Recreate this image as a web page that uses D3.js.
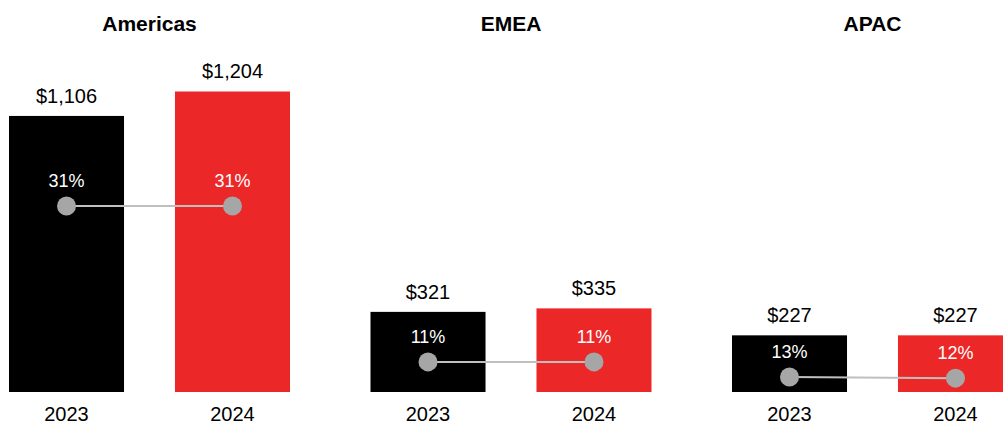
<!DOCTYPE html>
<html lang="en">
<head>
    <meta charset="UTF-8">
    <title>Revenue by region</title>
    <style>
        body {
            margin: 0;
            background: #fff;
        }

        #chart text {
            font-family: Arial, "Liberation Sans", sans-serif;
        }
    </style>
</head>
<body>
<div id="chart"></div>

<script src="https://cdn.jsdelivr.net/npm/d3@7/dist/d3.min.js"></script>
<script>
    // 数据
    var regions = ["Americas", "EMEA", "APAC"];
    var years = ["2023", "2024"];
    var revenue = [[1106, 1204], [321, 335], [227, 227]];
    var margin = [[31, 31], [11, 11], [13, 12]];
    // 每个区域的百分比副轴上限
    var pctMax = [52, 114, 270];

    var width = 1003, height = 426;
    var baseY = 392, plotTop = 80;

    var svg = d3.select("#chart").append("svg")
        .attr("width", width)
        .attr("height", height);

    var x0 = d3.scaleBand().domain(regions).range([9, 9 + 361.5 * 3]);
    var x1 = d3.scaleBand().domain(years).range([0, 281]).paddingInner(0.307);
    var y = d3.scaleLinear().domain([0, 1250]).range([baseY, plotTop]);
    var color = d3.scaleOrdinal().domain(years).range(["#000000", "#ec2727"]);

    regions.forEach(function (region, i) {
        var g = svg.append("g").attr("transform", "translate(" + x0(region) + ",0)");
        var yp = d3.scaleLinear().domain([0, pctMax[i]]).range([baseY, plotTop]);
        var rows = years.map(function (yr, j) {
            return {year: yr, value: revenue[i][j], pct: margin[i][j]};
        });

        // 标题
        g.append("text")
            .attr("x", 140.5)
            .attr("y", 31)
            .attr("text-anchor", "middle")
            .attr("font-size", 21)
            .attr("font-weight", "bold")
            .text(region);

        // 柱子
        g.selectAll("rect").data(rows).enter().append("rect")
            .attr("x", function (d) { return x1(d.year); })
            .attr("y", function (d) { return y(d.value); })
            .attr("width", x1.bandwidth())
            .attr("height", function (d) { return baseY - y(d.value); })
            .attr("fill", function (d) { return color(d.year); });

        // 金额
        g.selectAll("text.val").data(rows).enter().append("text")
            .attr("class", "val")
            .attr("x", function (d) { return x1(d.year) + x1.bandwidth() / 2; })
            .attr("y", function (d) { return y(d.value) - 13; })
            .attr("text-anchor", "middle")
            .attr("font-size", 20)
            .attr("fill", "#000")
            .text(function (d) { return "$" + d3.format(",")(d.value); });

        // 年份
        g.selectAll("text.yr").data(rows).enter().append("text")
            .attr("class", "yr")
            .attr("x", function (d) { return x1(d.year) + x1.bandwidth() / 2; })
            .attr("y", 421)
            .attr("text-anchor", "middle")
            .attr("font-size", 20)
            .attr("fill", "#000")
            .text(function (d) { return d.year; });

        // 百分比折线
        var line = d3.line()
            .x(function (d) { return x1(d.year) + x1.bandwidth() / 2; })
            .y(function (d) { return yp(d.pct); });
        g.append("path")
            .datum(rows)
            .attr("d", line)
            .attr("fill", "none")
            .attr("stroke", "#bfbfbf")
            .attr("stroke-width", 2);

        g.selectAll("circle").data(rows).enter().append("circle")
            .attr("cx", function (d) { return x1(d.year) + x1.bandwidth() / 2; })
            .attr("cy", function (d) { return yp(d.pct); })
            .attr("r", 9.5)
            .attr("fill", "#a6a6a6");

        g.selectAll("text.pct").data(rows).enter().append("text")
            .attr("class", "pct")
            .attr("x", function (d) { return x1(d.year) + x1.bandwidth() / 2; })
            .attr("y", function (d) { return yp(d.pct) - 19; })
            .attr("text-anchor", "middle")
            .attr("font-size", 18)
            .attr("fill", "#fff")
            .text(function (d) { return d.pct + "%"; });
    });
</script>
</body>
</html>
